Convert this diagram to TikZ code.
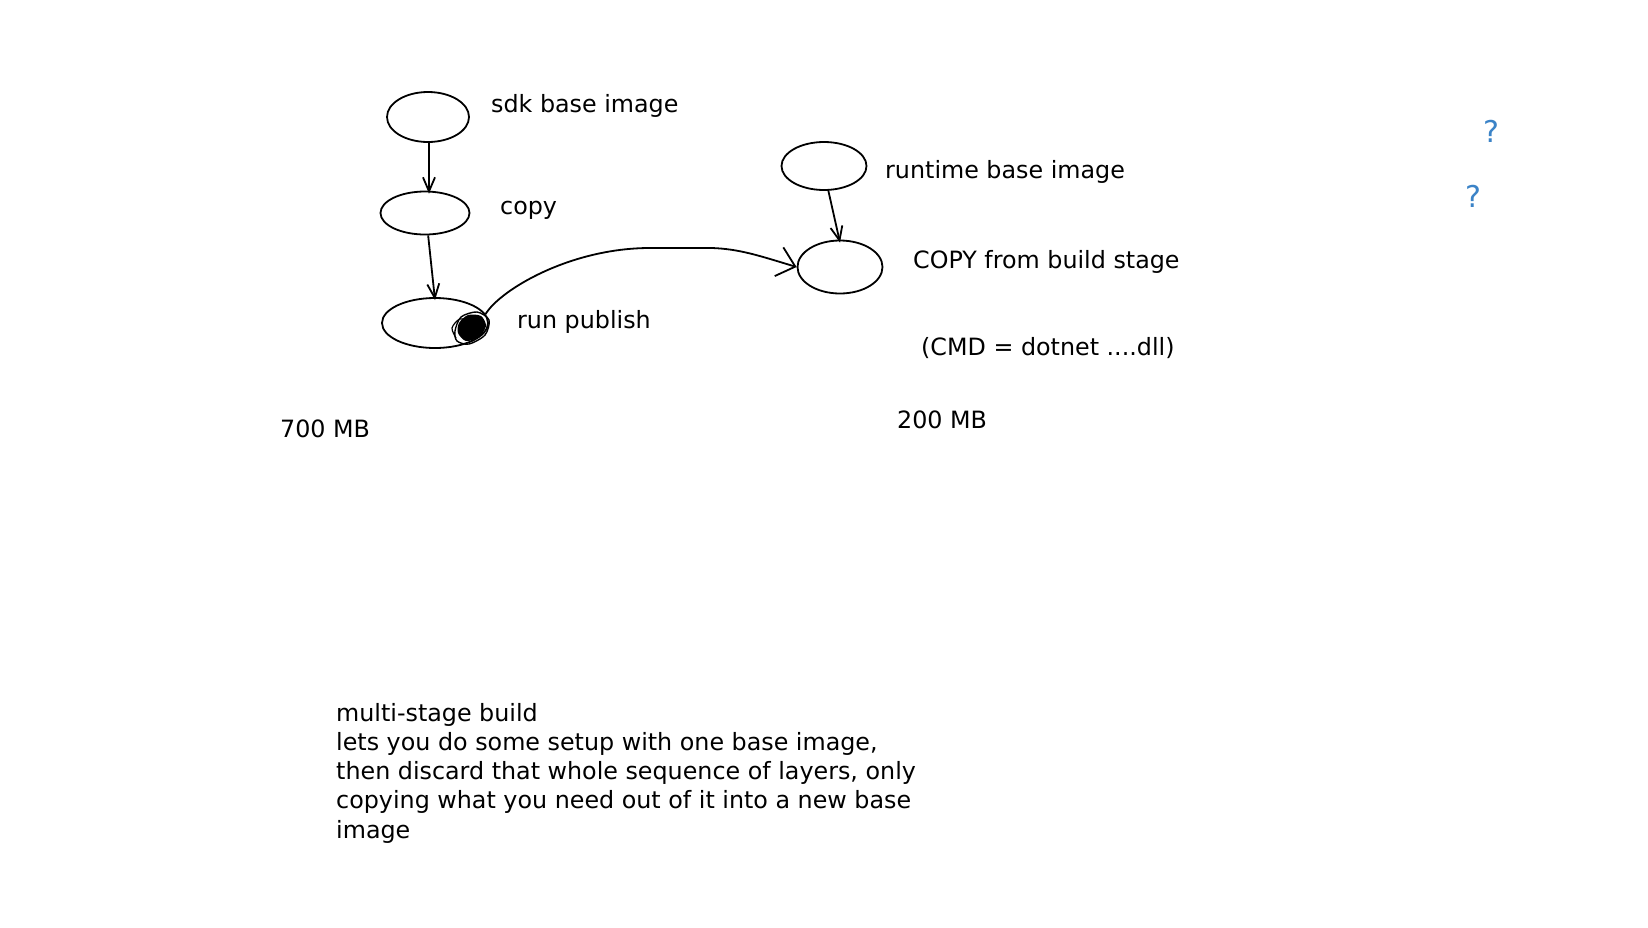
\documentclass[tikz,border=0pt]{standalone}
\usepackage{fontspec}
\setmainfont{DejaVu Sans}
\usetikzlibrary{shapes.geometric,arrows.meta}
\definecolor{qblue}{RGB}{59,131,199}
\begin{document}
\begin{tikzpicture}[x=1pt,y=-1pt,
  layer/.style={draw,ellipse,line width=1.8pt,inner sep=0pt},
  lbl/.style={anchor=west,inner sep=0pt,text height=17pt,text depth=5pt,font=\fontsize{23.8}{29}\selectfont},
  qmark/.style={anchor=center,inner sep=0pt,text=qblue,font=\fontsize{30}{34}\selectfont},
  arr/.style={line width=1.8pt,-{Straight Barb[length=14pt,width=12pt]}}]
\path[use as bounding box] (0,0) rectangle (1648,927);

\node[layer,minimum width=82pt,minimum height=50pt] (sdk) at (428,117) {};
\node[layer,minimum width=89pt,minimum height=43pt] (copy) at (425,213) {};
\node[layer,minimum width=106pt,minimum height=50pt] (run) at (435,323) {};
\node[layer,minimum width=85pt,minimum height=48pt] (rt) at (824,166) {};
\node[layer,minimum width=85pt,minimum height=53pt] (cpy) at (840,267) {};

\node[lbl] (sdklbl) at (491,106) {sdk base image};
\node[lbl] (copylbl) at (500,208) {copy};
\node[lbl] (runlbl) at (517,322) {run publish};
\node[lbl] (rtlbl) at (885,172) {runtime base image};
\node[lbl] (cpylbl) at (913,262) {COPY from build stage};
\node[lbl] (cmdlbl) at (921,349) {(CMD = dotnet ....dll)};
\node[lbl] (sizea) at (280,431) {700 MB};
\node[lbl] (sizeb) at (897,422) {200 MB};

\node[qmark] (qa) at (1491,131) {?};
\node[qmark] (qb) at (1473,196) {?};

\node[anchor=north west,inner sep=0pt,align=left,font=\fontsize{23.8}{29.2}\selectfont] (note) at (336,703)
  {multi-stage build\\lets you do some setup with one base image,\\then discard that whole sequence of layers, only\\copying what you need out of it into a new base\\image};

\draw[arr] ([xshift=1pt]sdk.south) -- ([xshift=1pt,yshift=-3pt]sdk.south |- copy.north);
\draw[arr] (copy.-82) -- ([yshift=-3pt]run.north);
\draw[arr] (rt.-80) -- ([yshift=-3pt]cpy.north);

\draw[line width=1.8pt,-{Straight Barb[length=17pt,width=30pt]}]
  (run.10) .. controls (500,290) and (570,248) .. (650,248) -- (712,248) .. controls (740,249) and (760,256) .. (cpy.west);

\fill plot[smooth cycle] coordinates {(459,323) (468,315) (481,316) (486,326) (479,337) (466,341) (458,333)};
\draw[line width=1.4pt] plot[smooth cycle] coordinates {(455,331) (461,317) (477,312) (489,320) (485,335) (469,344) (457,341)};
\draw[line width=1.2pt] plot[smooth] coordinates {(456,338) (452,328) (460,319) (472,322) (467,333) (476,327)};
\end{tikzpicture}
\end{document}
